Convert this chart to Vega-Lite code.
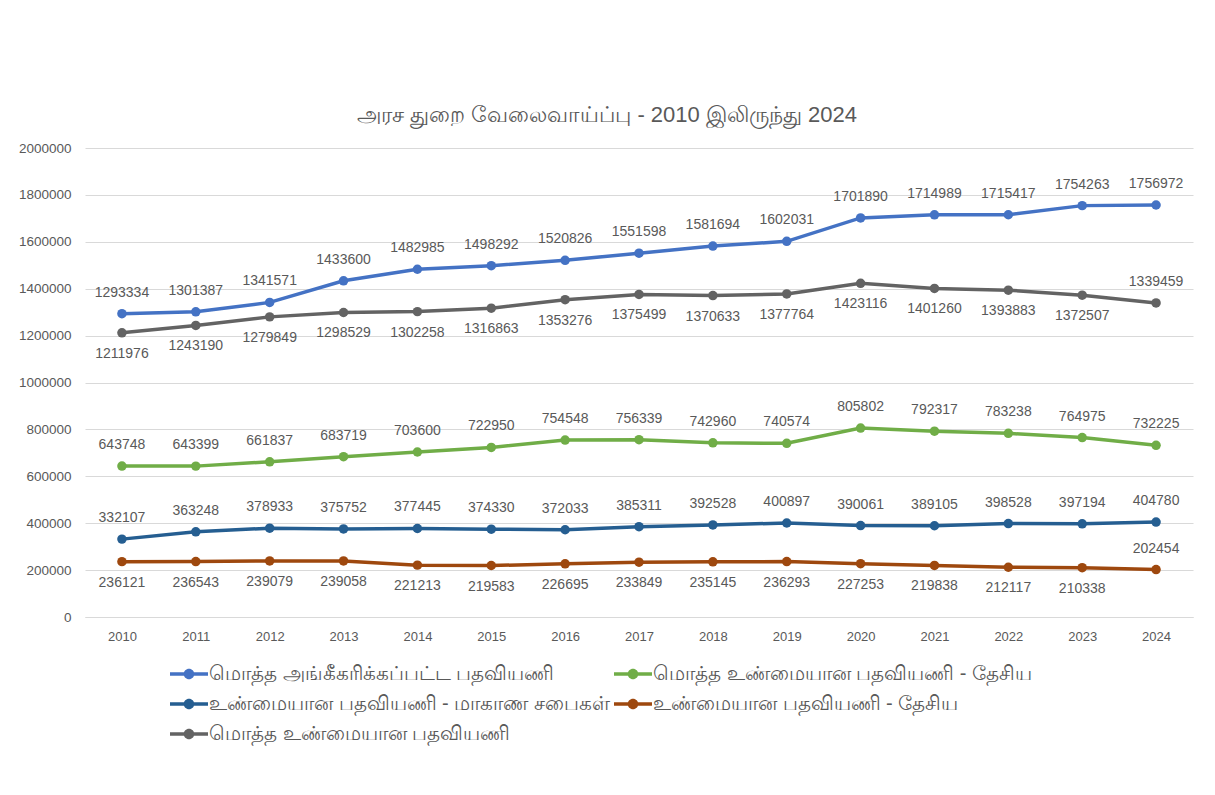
{
  "$schema": "https://vega.github.io/schema/vega-lite/v6.json",
  "width": 1108,
  "height": 469,
  "autosize": {"type": "none"},
  "padding": {"left": 85, "top": 148, "right": 22, "bottom": 178},
  "background": "white",
  "title": {
    "text": "அரச துறை வேலைவாய்ப்பு - 2010 இலிருந்து 2024",
    "anchor": "middle",
    "dx": -32,
    "fontSize": 22,
    "fontWeight": "normal",
    "color": "#595959",
    "font": "Liberation Sans",
    "offset": 14
  },
  "datasets": {
    "emp": [
      {"year": "2010", "series": "மொத்த அங்கீகரிக்கப்பட்ட பதவியணி", "value": 1293334},
      {"year": "2011", "series": "மொத்த அங்கீகரிக்கப்பட்ட பதவியணி", "value": 1301387},
      {"year": "2012", "series": "மொத்த அங்கீகரிக்கப்பட்ட பதவியணி", "value": 1341571},
      {"year": "2013", "series": "மொத்த அங்கீகரிக்கப்பட்ட பதவியணி", "value": 1433600},
      {"year": "2014", "series": "மொத்த அங்கீகரிக்கப்பட்ட பதவியணி", "value": 1482985},
      {"year": "2015", "series": "மொத்த அங்கீகரிக்கப்பட்ட பதவியணி", "value": 1498292},
      {"year": "2016", "series": "மொத்த அங்கீகரிக்கப்பட்ட பதவியணி", "value": 1520826},
      {"year": "2017", "series": "மொத்த அங்கீகரிக்கப்பட்ட பதவியணி", "value": 1551598},
      {"year": "2018", "series": "மொத்த அங்கீகரிக்கப்பட்ட பதவியணி", "value": 1581694},
      {"year": "2019", "series": "மொத்த அங்கீகரிக்கப்பட்ட பதவியணி", "value": 1602031},
      {"year": "2020", "series": "மொத்த அங்கீகரிக்கப்பட்ட பதவியணி", "value": 1701890},
      {"year": "2021", "series": "மொத்த அங்கீகரிக்கப்பட்ட பதவியணி", "value": 1714989},
      {"year": "2022", "series": "மொத்த அங்கீகரிக்கப்பட்ட பதவியணி", "value": 1715417},
      {"year": "2023", "series": "மொத்த அங்கீகரிக்கப்பட்ட பதவியணி", "value": 1754263},
      {"year": "2024", "series": "மொத்த அங்கீகரிக்கப்பட்ட பதவியணி", "value": 1756972},
      {"year": "2010", "series": "மொத்த உண்மையான பதவியணி - தேசிய", "value": 643748},
      {"year": "2011", "series": "மொத்த உண்மையான பதவியணி - தேசிய", "value": 643399},
      {"year": "2012", "series": "மொத்த உண்மையான பதவியணி - தேசிய", "value": 661837},
      {"year": "2013", "series": "மொத்த உண்மையான பதவியணி - தேசிய", "value": 683719},
      {"year": "2014", "series": "மொத்த உண்மையான பதவியணி - தேசிய", "value": 703600},
      {"year": "2015", "series": "மொத்த உண்மையான பதவியணி - தேசிய", "value": 722950},
      {"year": "2016", "series": "மொத்த உண்மையான பதவியணி - தேசிய", "value": 754548},
      {"year": "2017", "series": "மொத்த உண்மையான பதவியணி - தேசிய", "value": 756339},
      {"year": "2018", "series": "மொத்த உண்மையான பதவியணி - தேசிய", "value": 742960},
      {"year": "2019", "series": "மொத்த உண்மையான பதவியணி - தேசிய", "value": 740574},
      {"year": "2020", "series": "மொத்த உண்மையான பதவியணி - தேசிய", "value": 805802},
      {"year": "2021", "series": "மொத்த உண்மையான பதவியணி - தேசிய", "value": 792317},
      {"year": "2022", "series": "மொத்த உண்மையான பதவியணி - தேசிய", "value": 783238},
      {"year": "2023", "series": "மொத்த உண்மையான பதவியணி - தேசிய", "value": 764975},
      {"year": "2024", "series": "மொத்த உண்மையான பதவியணி - தேசிய", "value": 732225},
      {"year": "2010", "series": "உண்மையான பதவியணி - மாகாண சபைகள்", "value": 332107},
      {"year": "2011", "series": "உண்மையான பதவியணி - மாகாண சபைகள்", "value": 363248},
      {"year": "2012", "series": "உண்மையான பதவியணி - மாகாண சபைகள்", "value": 378933},
      {"year": "2013", "series": "உண்மையான பதவியணி - மாகாண சபைகள்", "value": 375752},
      {"year": "2014", "series": "உண்மையான பதவியணி - மாகாண சபைகள்", "value": 377445},
      {"year": "2015", "series": "உண்மையான பதவியணி - மாகாண சபைகள்", "value": 374330},
      {"year": "2016", "series": "உண்மையான பதவியணி - மாகாண சபைகள்", "value": 372033},
      {"year": "2017", "series": "உண்மையான பதவியணி - மாகாண சபைகள்", "value": 385311},
      {"year": "2018", "series": "உண்மையான பதவியணி - மாகாண சபைகள்", "value": 392528},
      {"year": "2019", "series": "உண்மையான பதவியணி - மாகாண சபைகள்", "value": 400897},
      {"year": "2020", "series": "உண்மையான பதவியணி - மாகாண சபைகள்", "value": 390061},
      {"year": "2021", "series": "உண்மையான பதவியணி - மாகாண சபைகள்", "value": 389105},
      {"year": "2022", "series": "உண்மையான பதவியணி - மாகாண சபைகள்", "value": 398528},
      {"year": "2023", "series": "உண்மையான பதவியணி - மாகாண சபைகள்", "value": 397194},
      {"year": "2024", "series": "உண்மையான பதவியணி - மாகாண சபைகள்", "value": 404780},
      {"year": "2010", "series": "உண்மையான பதவியணி - தேசிய", "value": 236121},
      {"year": "2011", "series": "உண்மையான பதவியணி - தேசிய", "value": 236543},
      {"year": "2012", "series": "உண்மையான பதவியணி - தேசிய", "value": 239079},
      {"year": "2013", "series": "உண்மையான பதவியணி - தேசிய", "value": 239058},
      {"year": "2014", "series": "உண்மையான பதவியணி - தேசிய", "value": 221213},
      {"year": "2015", "series": "உண்மையான பதவியணி - தேசிய", "value": 219583},
      {"year": "2016", "series": "உண்மையான பதவியணி - தேசிய", "value": 226695},
      {"year": "2017", "series": "உண்மையான பதவியணி - தேசிய", "value": 233849},
      {"year": "2018", "series": "உண்மையான பதவியணி - தேசிய", "value": 235145},
      {"year": "2019", "series": "உண்மையான பதவியணி - தேசிய", "value": 236293},
      {"year": "2020", "series": "உண்மையான பதவியணி - தேசிய", "value": 227253},
      {"year": "2021", "series": "உண்மையான பதவியணி - தேசிய", "value": 219838},
      {"year": "2022", "series": "உண்மையான பதவியணி - தேசிய", "value": 212117},
      {"year": "2023", "series": "உண்மையான பதவியணி - தேசிய", "value": 210338},
      {"year": "2024", "series": "உண்மையான பதவியணி - தேசிய", "value": 202454},
      {"year": "2010", "series": "மொத்த உண்மையான பதவியணி", "value": 1211976},
      {"year": "2011", "series": "மொத்த உண்மையான பதவியணி", "value": 1243190},
      {"year": "2012", "series": "மொத்த உண்மையான பதவியணி", "value": 1279849},
      {"year": "2013", "series": "மொத்த உண்மையான பதவியணி", "value": 1298529},
      {"year": "2014", "series": "மொத்த உண்மையான பதவியணி", "value": 1302258},
      {"year": "2015", "series": "மொத்த உண்மையான பதவியணி", "value": 1316863},
      {"year": "2016", "series": "மொத்த உண்மையான பதவியணி", "value": 1353276},
      {"year": "2017", "series": "மொத்த உண்மையான பதவியணி", "value": 1375499},
      {"year": "2018", "series": "மொத்த உண்மையான பதவியணி", "value": 1370633},
      {"year": "2019", "series": "மொத்த உண்மையான பதவியணி", "value": 1377764},
      {"year": "2020", "series": "மொத்த உண்மையான பதவியணி", "value": 1423116},
      {"year": "2021", "series": "மொத்த உண்மையான பதவியணி", "value": 1401260},
      {"year": "2022", "series": "மொத்த உண்மையான பதவியணி", "value": 1393883},
      {"year": "2023", "series": "மொத்த உண்மையான பதவியணி", "value": 1372507},
      {"year": "2024", "series": "மொத்த உண்மையான பதவியணி", "value": 1339459}
    ]
  },
  "data": {"name": "emp"},
  "encoding": {
    "x": {
      "field": "year",
      "type": "ordinal",
      "scale": {"type": "point", "padding": 0.5},
      "axis": {
        "title": null,
        "labelAngle": 0,
        "ticks": false,
        "domainColor": "#D9D9D9",
        "domainWidth": 1,
        "labelColor": "#595959",
        "labelFontSize": 13,
        "labelFont": "Liberation Sans",
        "labelPadding": 13
      }
    },
    "y": {
      "field": "value",
      "type": "quantitative",
      "scale": {"domain": [0, 2000000], "nice": false},
      "axis": {
        "title": null,
        "values": [0, 200000, 400000, 600000, 800000, 1000000, 1200000, 1400000, 1600000, 1800000, 2000000],
        "format": "d",
        "domain": false,
        "ticks": false,
        "gridColor": "#D9D9D9",
        "gridWidth": 1,
        "labelColor": "#595959",
        "labelFontSize": 13.5,
        "labelFont": "Liberation Sans",
        "labelPadding": 14
      }
    },
    "color": {
      "field": "series",
      "type": "nominal",
      "scale": {
        "domain": [
          "மொத்த அங்கீகரிக்கப்பட்ட பதவியணி",
          "உண்மையான பதவியணி - மாகாண சபைகள்",
          "மொத்த உண்மையான பதவியணி",
          "மொத்த உண்மையான பதவியணி - தேசிய",
          "உண்மையான பதவியணி - தேசிய"
        ],
        "range": ["#4472C4", "#255E91", "#636363", "#70AD47", "#9E480E"]
      },
      "legend": {
        "title": null,
        "orient": "none",
        "legendX": 94,
        "legendY": 516,
        "columns": 2,
        "columnPadding": 4,
        "rowPadding": 10,
        "labelFontSize": 20,
        "labelColor": "#595959",
        "labelLimit": 700,
        "labelOffset": 10,
        "symbolType": "M-3.8,-0.36L3.8,-0.36L3.8,0.36L-3.8,0.36Z M1.05,0A1.05,1.05,0,1,1,-1.05,0A1.05,1.05,0,1,1,1.05,0Z",
        "symbolStrokeWidth": 0,
        "encode": {
          "symbols": {"update": {"fill": {"scale": "color", "field": "value"}, "strokeWidth": {"value": 0}, "opacity": {"value": 1}}}
        }
      }
    }
  },
  "layer": [
    {"mark": {"type": "line", "strokeWidth": 3.5}, "encoding": {}},
    {"mark": {"type": "point", "filled": true, "opacity": 1, "size": 90}, "encoding": {}},
    {
      "transform": [
        {"filter": "indexof(['மொத்த அங்கீகரிக்கப்பட்ட பதவியணி','மொத்த உண்மையான பதவியணி - தேசிய','உண்மையான பதவியணி - மாகாண சபைகள்'], datum.series) >= 0 || datum.year == '2024'"}
      ],
      "mark": {"type": "text", "dy": -21, "fontSize": 14, "font": "Liberation Sans", "color": "#595959"},
      "encoding": {"text": {"field": "value", "type": "quantitative", "format": "d"}, "color": {"value": "#595959"}}
    },
    {
      "transform": [
        {"filter": "indexof(['மொத்த அங்கீகரிக்கப்பட்ட பதவியணி','மொத்த உண்மையான பதவியணி - தேசிய','உண்மையான பதவியணி - மாகாண சபைகள்'], datum.series) < 0 && datum.year != '2024'"}
      ],
      "mark": {"type": "text", "dy": 21, "fontSize": 14, "font": "Liberation Sans", "color": "#595959"},
      "encoding": {"text": {"field": "value", "type": "quantitative", "format": "d"}, "color": {"value": "#595959"}}
    }
  ],
  "config": {"view": {"stroke": null}}
}
